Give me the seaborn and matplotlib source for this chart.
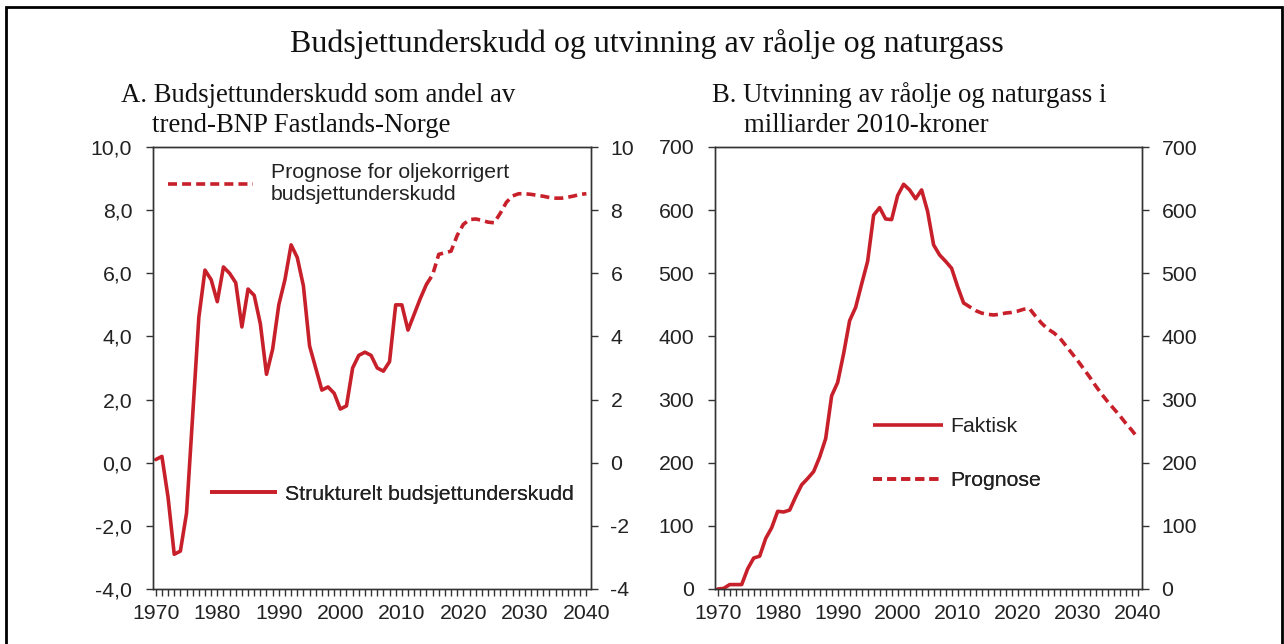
import numpy as np
import pandas as pd
import matplotlib
matplotlib.use("Agg")
import matplotlib.pyplot as plt
import seaborn as sns
from matplotlib.lines import Line2D
from matplotlib.patches import Rectangle
from matplotlib.ticker import FuncFormatter, MultipleLocator

sns.set_style("ticks")
plt.rcParams["font.family"] = ["Liberation Sans", "DejaVu Sans"]

# --------------------------------------------------------------------------
# Data
# --------------------------------------------------------------------------
# A. Strukturelt budsjettunderskudd, % av trend-BNP Fastlands-Norge
deficit_years = list(range(1970, 2015))
deficit_actual = [0.1, 0.2, -1.1, -2.9, -2.8, -1.6, 1.5, 4.6, 6.1, 5.8,
                  5.1, 6.2, 6.0, 5.7, 4.3, 5.5, 5.3, 4.4, 2.8, 3.6,
                  5.0, 5.8, 6.9, 6.5, 5.6, 3.7, 3.0, 2.3, 2.4, 2.2,
                  1.7, 1.8, 3.0, 3.4, 3.5, 3.4, 3.0, 2.9, 3.2, 5.0,
                  5.0, 4.2, 4.7, 5.2, 5.65]
deficit_fc_years = list(range(2014, 2041))
deficit_forecast = [5.65, 5.95, 6.6, 6.65, 6.7, 7.2, 7.55, 7.7, 7.72, 7.68,
                    7.62, 7.6, 7.9, 8.25, 8.45, 8.52, 8.52, 8.5, 8.47, 8.44,
                    8.4, 8.38, 8.38, 8.41, 8.45, 8.5, 8.52]

# B. Utvinning av råolje og naturgass, mrd. 2010-kroner
prod_years = list(range(1970, 2012))
prod_actual = [0, 1, 7, 7, 7, 32, 49, 52, 80, 97,
               123, 122, 125, 146, 165, 175, 186, 209, 238, 306,
               327, 373, 425, 446, 483, 519, 592, 604, 586, 585,
               623, 641, 632, 618, 632, 598, 545, 529, 519, 508,
               479, 453]
prod_fc_years = list(range(2011, 2041))
prod_forecast = [453, 447, 441, 437, 435, 434, 435, 437, 438, 440,
                 443, 444, 432, 421, 412, 406, 398, 386, 374, 362,
                 349, 336, 322, 309, 297, 286, 275, 263, 252, 240]

RED = "#C8202A"
LW = 2.6
DASH = (2.5, 1.4)
TXT = "#222222"
FS = 15.3

title = "Budsjettunderskudd og utvinning av råolje og naturgass"
sub_a = ["A. Budsjettunderskudd som andel av", "trend-BNP Fastlands-Norge"]
sub_b = ["B. Utvinning av råolje og naturgass i", "milliarder 2010-kroner"]

W, H = 1284, 644
fig = plt.figure(figsize=(W / 100, H / 100), dpi=100)


def px_axes(x0, y0, x1, y1):
    return fig.add_axes([x0 / W, 1 - y1 / H, (x1 - x0) / W, (y1 - y0) / H])


def style_axes(ax, ymin, ymax, ystep, left_fmt, right_fmt):
    ax.set_xlim(1969.55, 2040.75)
    ax.set_ylim(ymin, ymax)
    ax.xaxis.set_major_locator(MultipleLocator(10))
    ax.xaxis.set_minor_locator(MultipleLocator(1))
    ax.yaxis.set_major_locator(MultipleLocator(ystep))
    ax.yaxis.set_major_formatter(FuncFormatter(left_fmt))
    ax.tick_params(axis="both", which="both", direction="out", length=5,
                   width=1, color="#333333", labelsize=FS, labelcolor=TXT)
    ax.tick_params(axis="x", which="minor", length=5)
    ax.tick_params(axis="x", pad=6)
    ax.tick_params(axis="y", pad=10)
    ax.set_xlabel("")
    ax.set_ylabel("")
    for sp in ax.spines.values():
        sp.set_visible(True)
        sp.set_color("#333333")
        sp.set_linewidth(1.0)
    twin = ax.twinx()
    twin.set_ylim(ymin, ymax)
    twin.yaxis.set_major_locator(MultipleLocator(ystep))
    twin.yaxis.set_major_formatter(FuncFormatter(right_fmt))
    twin.tick_params(axis="y", direction="out", length=5, width=1,
                     color="#333333", labelsize=FS, labelcolor=TXT, pad=9)
    for sp in twin.spines.values():
        sp.set_color("#333333")
        sp.set_linewidth(1.0)


def add_legend(ax, handle, label, x_px, y_px, x0, y0, w, h, hlen, hpad):
    leg = ax.legend(handles=[handle], labels=[label], loc="center left",
                    bbox_to_anchor=((x_px - x0) / w, 1 - (y_px - y0) / h),
                    frameon=False, fontsize=FS, handlelength=hlen,
                    handletextpad=hpad, borderpad=0, borderaxespad=0,
                    labelcolor=TXT)
    ax.add_artist(leg)


solid = Line2D([], [], color=RED, lw=LW, solid_capstyle="butt")
dashed = Line2D([], [], color=RED, lw=LW, linestyle=(0, DASH))

# --------------------------------------------------------------------------
# Panel A
# --------------------------------------------------------------------------
ax1 = px_axes(153, 147, 591, 589)
df_a = pd.DataFrame({"year": deficit_years, "value": deficit_actual})
df_af = pd.DataFrame({"year": deficit_fc_years, "value": deficit_forecast})
sns.lineplot(data=df_a, x="year", y="value", ax=ax1, color=RED, lw=LW)
sns.lineplot(data=df_af, x="year", y="value", ax=ax1, color=RED, lw=LW,
             dashes=False, linestyle=(0, DASH))
style_axes(ax1, -4, 10, 2,
           lambda v, p: f"{v:.1f}".replace(".", ","),
           lambda v, p: f"{v:.0f}")
add_legend(ax1, dashed, "Prognose for oljekorrigert\nbudsjettunderskudd",
           168, 184, 153, 147, 438, 442, 4.0, 0.85)
add_legend(ax1, solid, "Strukturelt budsjettunderskudd",
           210, 494, 153, 147, 438, 442, 3.15, 0.38)

# --------------------------------------------------------------------------
# Panel B
# --------------------------------------------------------------------------
ax2 = px_axes(715, 147, 1142, 589)
df_b = pd.DataFrame({"year": prod_years, "value": prod_actual})
df_bf = pd.DataFrame({"year": prod_fc_years, "value": prod_forecast})
sns.lineplot(data=df_b, x="year", y="value", ax=ax2, color=RED, lw=LW)
sns.lineplot(data=df_bf, x="year", y="value", ax=ax2, color=RED, lw=LW,
             dashes=False, linestyle=(0, DASH))
style_axes(ax2, 0, 700, 100,
           lambda v, p: f"{v:.0f}",
           lambda v, p: f"{v:.0f}")
add_legend(ax2, solid, "Faktisk", 873, 427, 715, 147, 427, 442, 3.3, 0.34)
add_legend(ax2, dashed, "Prognose", 873, 481, 715, 147, 427, 442, 3.3, 0.34)

# --------------------------------------------------------------------------
# Titles and frame
# --------------------------------------------------------------------------
serif = ["Liberation Serif", "DejaVu Serif"]
fig.text(647 / W, 1 - 44 / H, title, ha="center", va="center",
         fontsize=23, family=serif, color="#111111")
fig.text(121 / W, 1 - 95 / H, sub_a[0], ha="left", va="center",
         fontsize=19.3, family=serif, color="#111111")
fig.text(152 / W, 1 - 125 / H, sub_a[1], ha="left", va="center",
         fontsize=19.3, family=serif, color="#111111")
fig.text(712 / W, 1 - 95 / H, sub_b[0], ha="left", va="center",
         fontsize=19.3, family=serif, color="#111111")
fig.text(744 / W, 1 - 125 / H, sub_b[1], ha="left", va="center",
         fontsize=19.3, family=serif, color="#111111")

fig.patches.append(Rectangle((6 / W, -0.05), (W - 8.5) / W, 1.05 - 6.5 / H,
                             transform=fig.transFigure, fill=False,
                             edgecolor="black", lw=2.0))

fig.savefig("out.png", dpi=100)
